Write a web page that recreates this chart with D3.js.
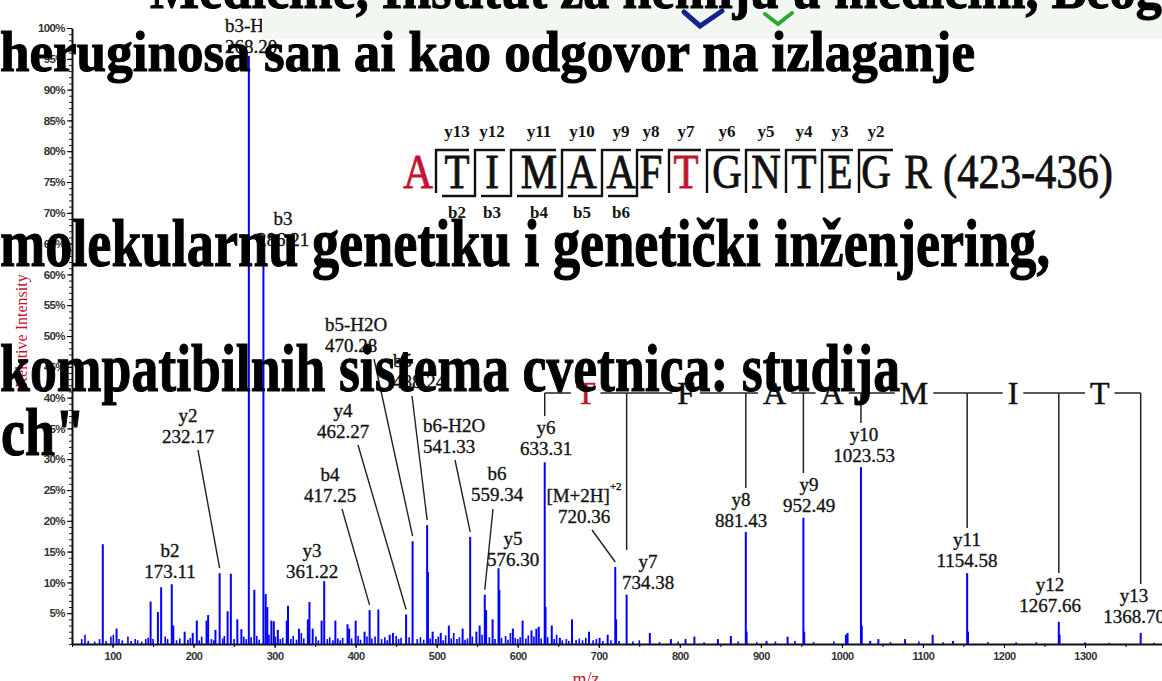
<!DOCTYPE html>
<html>
<head>
<meta charset="utf-8">
<script src="https://d3js.org/d3.v7.min.js"></script>
<style>
  body { margin: 0; background: #fff; overflow: hidden; }
  svg { display: block; }
  .lbl { font-family: "Liberation Serif", "Times New Roman", serif; font-size: 19px; fill: #151515; stroke: #151515; stroke-width: 0.35px; }
  .big { font-family: "Liberation Serif", "Times New Roman", serif; font-weight: bold; fill: #000; stroke: #000; stroke-width: 1.1px; }
  .tick text { font-family: "Liberation Sans", Arial, sans-serif; font-weight: bold; fill: #333; }
</style>
</head>
<body>
<svg id="chart" width="1162" height="681"></svg>
<script>
// ---- peak list (m/z, relative intensity %) ----
const peakMz = [
  88, 105, 147, 156, 160, 175, 189, 199, 204, 216,
  218, 227, 242, 246, 254, 259, 275, 289, 291, 296,
  299, 304, 315, 316.5, 330, 341, 343, 347, 358, 375,
  390, 392, 400, 411, 428, 442, 446, 489.2, 495, 505,
  515, 532, 549, 553, 561, 569, 577.3, 594, 606, 617,
  623, 626, 634.3, 642, 652, 667, 688, 701, 711, 721.4,
  763, 789, 807, 818, 847, 863, 882.4, 907, 933, 953.5,
  1005, 1007, 1024.5, 1035, 1045, 1078, 1112, 1137, 1155.6, 1268.6];
const peakInt = [
  16.2, 2.5, 6.9, 5.2, 9.2, 3.0, 2.0, 1.8, 3.8, 3.8,
  4.7, 2.3, 5.3, 11.4, 4.0, 2.4, 8.8, 8.1, 6.0, 3.8,
  3.7, 2.3, 3.8, 6.2, 2.5, 4.0, 6.8, 2.5, 3.8, 3.8,
  3.2, 2.5, 3.8, 2.0, 5.6, 1.5, 1.8, 11.7, 2.0, 1.8,
  3.0, 2.5, 2.0, 3.0, 5.5, 4.0, 8.8, 2.5, 3.8, 2.2,
  2.5, 2.8, 6.0, 3.0, 1.0, 4.0, 2.0, 1.0, 1.5, 4.0,
  1.8, 0.8, 0.8, 1.2, 0.8, 1.3, 2.0, 0.5, 1.2, 2.0,
  1.5, 1.8, 3.0, 0.5, 0.8, 0.8, 1.5, 0.5, 2.0, 1.5];

// low background peaks
const noiseMz = [
  62, 66, 70, 78, 84, 92, 98, 101, 108, 112,
  119, 123, 128, 131, 136, 141, 144, 150, 165, 168,
  179, 183, 193, 196, 207, 210, 222, 225, 236, 238,
  250, 262, 265, 271, 278, 281, 293, 301, 307, 310,
  320, 323, 327, 333, 336, 351, 354, 365, 368, 372,
  378, 381, 384, 395, 403, 406, 414, 420, 424, 432,
  436, 439, 450, 453, 456, 466, 476, 480, 484, 492,
  499, 502, 508, 511, 518, 521, 525, 528, 535, 538,
  544, 556, 565, 572, 580, 585, 588, 591, 597, 600,
  603, 610, 613, 620, 629, 637, 645, 648, 655, 660,
  663, 672, 676, 680, 684, 693, 697, 705, 715, 725,
  742, 750, 775, 798, 830, 872, 895, 918, 942, 965,
  990, 1060, 1095, 1125, 1180, 1215, 1240, 1300, 1330, 1385];
const noiseInt = [
  0.8, 1.5, 0.5, 0.4, 0.8, 0.5, 1.2, 1.5, 0.8, 0.6,
  1.2, 0.5, 0.8, 0.6, 0.4, 0.8, 1.0, 0.8, 1.2, 0.8,
  0.6, 0.9, 0.7, 1.0, 0.6, 1.2, 0.8, 0.6, 0.9, 1.3,
  0.8, 1.2, 0.8, 1.1, 1.3, 0.7, 1.5, 1.2, 0.8, 1.0,
  0.8, 1.3, 0.7, 1.8, 0.9, 1.2, 0.6, 0.8, 1.1, 0.6,
  0.9, 0.6, 1.0, 0.9, 1.3, 0.7, 1.2, 0.9, 1.2, 0.8,
  1.1, 0.6, 1.3, 0.8, 1.0, 1.1, 0.8, 1.1, 0.7, 0.9,
  0.8, 1.2, 0.6, 1.4, 0.9, 1.8, 0.8, 1.1, 0.7, 0.9,
  1.2, 1.5, 1.1, 0.8, 1.0, 1.3, 0.7, 1.8, 1.0, 0.8,
  1.1, 0.9, 1.4, 1.2, 0.9, 1.1, 0.8, 1.5, 0.6, 0.8,
  0.5, 0.7, 0.9, 0.6, 1.0, 0.6, 0.8, 0.5, 0.6, 0.5,
  0.4, 0.6, 0.3, 0.4, 0.3, 0.4, 0.3, 0.4, 0.5, 0.3,
  0.4, 0.3, 0.4, 0.3, 0.3, 0.3, 0.3, 0.3, 0.2, 0.2];

// assigned fragment ions
const ionNames = ["b3-H2O", "b3", "y2", "b2", "y3", "b4", "y4", "b5-H2O", "b5", "b6-H2O", "b6",
                  "y5", "y6", "[M+2H]", "y7", "y8", "y9", "y10", "y11", "y12", "y13"];
const ionMz = [268.20, 286.21, 232.17, 173.11, 361.22, 417.25, 462.27, 470.28, 488.24, 541.33, 559.34,
               576.30, 633.31, 720.36, 734.38, 881.43, 952.49, 1023.53, 1154.58, 1267.66, 1368.70];
const ionInt = [95.5, 63, 11.5, 9.7, 10.2, 5.5, 4.8, 16.7, 19.3, 17.4, 8.0,
                12.3, 29.5, 12.5, 8.0, 18.2, 20.5, 28.7, 11.5, 3.6, 1.8];

// peptide sequence
const sequence = ["A", "T", "I", "M", "A", "A", "F", "T", "G", "N", "T", "E", "G", "R"];
const seqRange = "(423-436)";
const seqRed = [0, 7];
const bIons = [2, 3, 4, 5, 6];

// y-ion ladder drawn over the spectrum
const ladderIons = ["y6", "y7", "y8", "y9", "y10", "y11", "y12", "y13"];
const ladderRes = ["T", "F", "A", "A", "M", "I", "T"];

const yTicks = d3.range(5, 101, 5);
const xTicks = d3.range(100, 1301, 100);

// overlaid slide text
const slideLines = [
  "Medicine, Institut za hemiju u medicini, Beograd",
  "heruginosa san ai kao odgovor na izlaganje",
  "molekularnu genetiku i genetički inženjering,",
  "kompatibilnih sistema cvetnica: studija",
  "ch\""
];

// ---- layout ----
const svg = d3.select("#chart");
const x = d3.scaleLinear().domain([50, 1395]).range([72, 1162]);
const y = d3.scaleLinear().domain([0, 100]).range([644, 28]);

// label layout: x, baseline of number line, anchor
const labelPos = {
  "b3-H2O": [225, 53, "start"], "b3": [283, 246, "middle"], "y2": [188, 443, "middle"],
  "b2": [170, 578, "middle"], "y3": [312, 578, "middle"], "b4": [330, 502, "middle"],
  "y4": [343, 438, "middle"], "b5-H2O": [325, 352, "start"], "b5": [393, 388, "start"],
  "b6-H2O": [423, 453, "start"], "b6": [497, 501, "middle"], "y5": [513, 566, "middle"],
  "y6": [546, 455, "middle"], "[M+2H]": [584, 523, "middle"], "y7": [648, 589, "middle"],
  "y8": [741, 527, "middle"], "y9": [809, 512, "middle"], "y10": [864, 462, "middle"],
  "y11": [967, 567, "middle"], "y12": [1050, 612, "middle"], "y13": [1134, 623, "middle"]
};
const leaderStart = {
  "y2": [198, 450], "b4": [342, 509], "y4": [358, 445], "b5-H2O": [374, 359],
  "b5": [412, 396], "b6-H2O": [455, 460], "b6": [493, 509], "[M+2H]": [592, 530]
};

// ---- axes ----
const gYmin = svg.append("g").attr("transform", "translate(72,0)")
  .call(d3.axisLeft(y).tickValues(d3.range(0, 101, 1)).tickSize(3).tickFormat(""));
gYmin.select(".domain").remove();
gYmin.selectAll("line").attr("stroke", "#222");

const gY = svg.append("g").attr("transform", "translate(72,0)")
  .call(d3.axisLeft(y).tickValues(yTicks).tickFormat(d => d + "%").tickSize(5).tickSizeOuter(0).tickPadding(2));
gY.select(".domain").attr("stroke", "#111").attr("stroke-width", 2);
gY.selectAll("text").attr("font-size", 11.5).attr("letter-spacing", -0.6);

const gXmin = svg.append("g").attr("transform", "translate(0,644)")
  .call(d3.axisBottom(x).tickValues(d3.range(50, 1401, 50)).tickSize(3).tickFormat(""));
gXmin.select(".domain").remove();

const gX = svg.append("g").attr("transform", "translate(0,644)")
  .call(d3.axisBottom(x).tickValues(xTicks).tickFormat(d3.format("d"))
    .tickSize(4).tickSizeOuter(0).tickPadding(4));
gX.select(".domain").attr("stroke", "#111").attr("stroke-width", 2);
gX.selectAll("text").attr("font-size", 11).attr("letter-spacing", -0.5);

svg.append("text")
  .attr("transform", "translate(27,331) rotate(-90)")
  .attr("text-anchor", "middle")
  .style("font", "16px 'Liberation Serif', serif").style("fill", "#c4122f")
  .text("Relative Intensity");
svg.append("text")
  .attr("x", 586).attr("y", 685).attr("text-anchor", "middle")
  .style("font", "18px 'Liberation Serif', serif").style("fill", "#c4122f")
  .text("m/z");

// ---- peaks ----
const bg = noiseMz.map((m, i) => ({ m: m, v: noiseInt[i] }));
const minor = peakMz.map((m, i) => ({ m: m, v: peakInt[i] }));
const ions = ionMz.map((m, i) => ({ m: m, v: ionInt[i], name: ionNames[i] }));

svg.append("g").selectAll("line").data(bg).join("line")
  .attr("x1", d => x(d.m)).attr("x2", d => x(d.m))
  .attr("y1", y(0)).attr("y2", d => y(d.v))
  .attr("stroke", "#0000ff").attr("stroke-width", 1.6);
svg.append("g").selectAll("line").data(minor.concat(ions)).join("line")
  .attr("x1", d => x(d.m)).attr("x2", d => x(d.m))
  .attr("y1", y(0)).attr("y2", d => y(d.v))
  .attr("stroke", "#0000ff").attr("stroke-width", 2);

// ---- peak labels ----
const gl = svg.append("g");
ions.forEach(d => {
  const p = labelPos[d.name];
  const t1 = gl.append("text").attr("class", "lbl")
    .attr("x", p[0]).attr("y", p[1] - 21).attr("text-anchor", p[2]).text(d.name);
  if (d.name === "[M+2H]") {
    t1.append("tspan").attr("dy", -12).attr("font-size", 11).text("+2");
  }
  gl.append("text").attr("class", "lbl")
    .attr("x", p[0]).attr("y", p[1]).attr("text-anchor", p[2]).text(d.m.toFixed(2));
  if (leaderStart[d.name]) {
    gl.append("line")
      .attr("x1", leaderStart[d.name][0]).attr("y1", leaderStart[d.name][1])
      .attr("x2", x(d.m)).attr("y2", y(d.v) - 5)
      .attr("stroke", "#222").attr("stroke-width", 1.4);
  }
});

// ---- ladder ----
const ladY = 393;
const ladX = ladderIons.map(n => x(ions.find(d => d.name === n).m));
const ladBottom = ladderIons.map(n => labelPos[n][1] - 39);
const gL = svg.append("g");
ladX.forEach((lx, i) => {
  gL.append("line").attr("x1", lx).attr("x2", lx).attr("y1", ladY).attr("y2", ladBottom[i])
    .attr("stroke", "#222").attr("stroke-width", 1.5);
});
ladderRes.forEach((r, i) => {
  const cx = (ladX[i] + ladX[i + 1]) / 2;
  const t = gL.append("text").attr("x", cx).attr("y", ladY + 11).attr("text-anchor", "middle")
    .style("font", "32px 'Liberation Serif', serif").style("fill", i === 0 ? "#c4122f" : "#111")
    .style("stroke", i === 0 ? "#c4122f" : "#111").style("stroke-width", "0.5px")
    .text(r);
  const hw = t.node().getComputedTextLength() / 2 + 5;
  gL.append("line").attr("x1", ladX[i]).attr("x2", cx - hw).attr("y1", ladY).attr("y2", ladY)
    .attr("stroke", "#222").attr("stroke-width", 1.5);
  gL.append("line").attr("x1", cx + hw).attr("x2", ladX[i + 1]).attr("y1", ladY).attr("y2", ladY)
    .attr("stroke", "#222").attr("stroke-width", 1.5);
});

// ---- sequence header ----
const seqCx = [418, 457, 492, 539, 582, 621, 651, 686, 727, 766, 804, 840, 876, 918];
const sepX = [436, 475, 511, 562, 602, 637, 669, 707, 746, 786, 822, 859];
const gS = svg.append("g");
sequence.forEach((r, i) => {
  const c = seqRed.includes(i) ? "#c4122f" : "#111";
  gS.append("text").attr("transform", `translate(${seqCx[i]},188) scale(1,1.2)`)
    .attr("text-anchor", "middle")
    .style("font", "41px 'Liberation Serif', serif")
    .style("fill", c).style("stroke", c).style("stroke-width", "0.7px").text(r);
});
gS.append("text").attr("transform", "translate(943,188) scale(1,1.2)")
  .attr("textLength", 170).attr("lengthAdjust", "spacingAndGlyphs")
  .style("font", "41px 'Liberation Serif', serif").style("fill", "#111")
  .style("stroke", "#111").style("stroke-width", "0.7px").text(seqRange);
sepX.forEach((sx, i) => {
  const hasB = bIons.includes(i + 1);
  gS.append("line").attr("x1", sx).attr("x2", sx).attr("y1", 149).attr("y2", hasB ? 197 : 193)
    .attr("stroke", "#111").attr("stroke-width", 2.4);
  const nx = i + 1 < sepX.length ? sepX[i + 1] - 6 : 893;
  gS.append("line").attr("x1", sx - 1).attr("x2", nx).attr("y1", 150).attr("y2", 150)
    .attr("stroke", "#111").attr("stroke-width", 2.4);
  gS.append("text").attr("class", "lbl").attr("x", seqCx[i + 1]).attr("y", 137)
    .attr("text-anchor", "middle").style("font-size", "17px").style("font-weight", "bold")
    .style("stroke-width", "0px")
    .text("y" + (sequence.length - 1 - i));
  if (hasB) {
    gS.append("line").attr("x1", sepX[i - 1] + 6).attr("x2", sx + 1).attr("y1", 196).attr("y2", 196)
      .attr("stroke", "#111").attr("stroke-width", 2.4);
    gS.append("text").attr("class", "lbl").attr("x", seqCx[i]).attr("y", 218)
      .attr("text-anchor", "middle").style("font-size", "17px").style("font-weight", "bold")
      .style("stroke-width", "0px")
      .text("b" + (i + 1));
  }
});

// ---- slide overlay ----
svg.append("rect").attr("x", 262).attr("y", 0).attr("width", 900).attr("height", 39)
  .attr("fill", "#f3f7f2");
svg.append("path").attr("d", "M684,12 L700,26 L722,11").attr("fill", "none")
  .attr("stroke", "#14248c").attr("stroke-width", 5).attr("stroke-linecap", "round");
svg.append("path").attr("d", "M765,14 L778,24 L792,13").attr("fill", "none")
  .attr("stroke", "#2ea82e").attr("stroke-width", 4).attr("stroke-linecap", "round");

const slideX = [150, 0, 0, 0, 1];
const slideY = [8, 71, 266, 391, 455];
const slideSize = [58, 58, 68, 68, 68];
const slideLen = [1090, 975, 1050, 900, 84];
slideLines.forEach((s, i) => {
  svg.append("text").attr("class", "big")
    .attr("x", slideX[i]).attr("y", slideY[i])
    .attr("font-size", slideSize[i])
    .attr("textLength", slideLen[i]).attr("lengthAdjust", "spacingAndGlyphs")
    .text(s);
});
</script>
</body>
</html>
